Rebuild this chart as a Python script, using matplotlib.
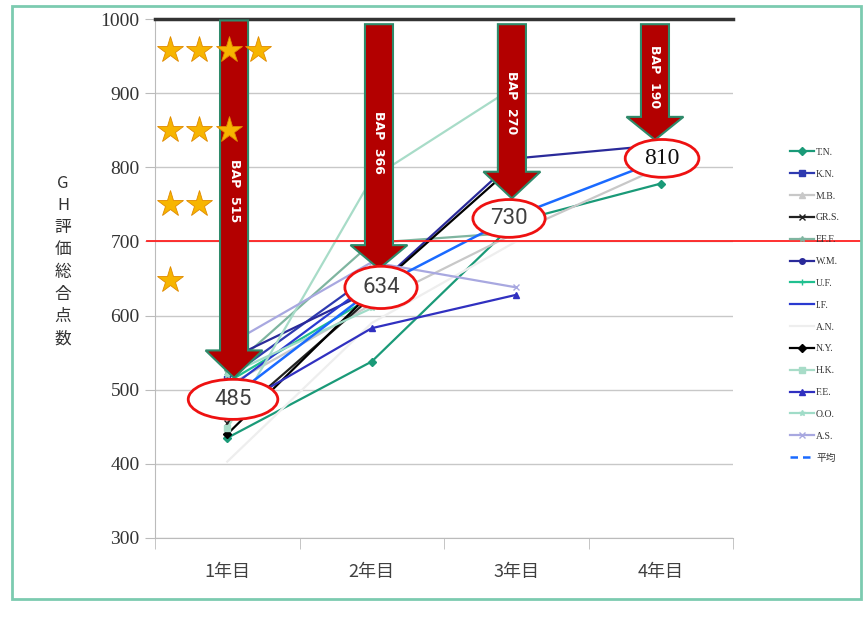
import matplotlib.pyplot as plt
import numpy as np
from matplotlib.patches import Polygon, Ellipse, Rectangle
from matplotlib.lines import Line2D
import matplotlib.transforms as mtransforms

nan = np.nan

# categories and series (GH evaluation total score per year)
years = ['1年目', '2年目', '3年目', '4年目']
names = ['T.N.', 'K.N.', 'M.B.', 'GR.S.', 'EF.F.', 'W.M.', 'U.F.', 'I.F.',
         'A.N.', 'N.Y.', 'H.K.', 'F.E.', 'O.O.', 'A.S.']
scores = [
    [435, 538, 727, 778],   # T.N.
    [515, 655, nan, nan],   # K.N.
    [505, 615, 712, 800],   # M.B.
    [455, 625, nan, nan],   # GR.S.
    [525, 698, 712, nan],   # EF.F.
    [540, 634, 812, 830],   # W.M.
    [510, 625, nan, nan],   # U.F.
    [500, 645, nan, nan],   # I.F.
    [403, 590, 700, nan],   # A.N.
    [440, 632, 805, nan],   # N.Y.
    [448, 785, 910, nan],   # H.K.
    [470, 583, 628, nan],   # F.E.
    [520, 610, nan, nan],   # O.O.
    [560, 672, 638, nan],   # A.S.
]
average = [485, 634, 735, 810]
average_labels = ['485', '634', '730', '810']
bap_gain = [515, 366, 270, 190]
target = 700
full_score = 1000
star_counts = [4, 3, 2, 1]
star_levels = [958, 850, 750, 648]

colors = ['#1a9a78', '#2e3ab0', '#c8c8c8', '#222222', '#7fb5a0', '#2a2a9a',
          '#20c090', '#2a3ad0', '#eeeeee', '#000000', '#a8dcc8', '#3030c0',
          '#a0dcc8', '#a8a8e0']
markers = ['D', 's', '^', 'x', '*', 'o', '+', None, None, 'D', 's', '^', '*', 'x']

fig = plt.figure(figsize=(8.67, 6.17), dpi=100)
ax = fig.add_axes([155/867, 1-538/617, (733-155)/867, (538-19)/617])

x = np.arange(1, 5)
lines = []
for nm, s, c, m in zip(names, scores, colors, markers):
    ln, = ax.plot(x, s, color=c, marker=m, markersize=4, lw=1.6, label=nm, zorder=2)
    lines.append(ln)
ax.plot(x, average, color='#1a6aff', lw=1.8, zorder=2.5)

ax.set_xlim(0.5, 4.5)
ax.set_ylim(300, 1000)
ax.set_yticks(range(300, 1001, 100))
ax.set_yticklabels([str(v) for v in range(300, 1001, 100)],
                   family='Liberation Serif', fontsize=14, color='#333333')
ax.set_xticks(x)
ax.set_xticklabels(years, family='Noto Sans CJK JP', fontsize=13, color='#404040')
ax.set_xticks(np.arange(0.5, 4.6, 1), minor=True)
ax.tick_params(axis='x', which='major', length=0, pad=18)
ax.tick_params(axis='x', which='minor', length=8, color='#bbbbbb')
ax.tick_params(axis='y', length=7, color='#bbbbbb', pad=4)
ax.grid(axis='y', color='#c8c8c8', lw=1, zorder=0)
for sp in ['top', 'right']:
    ax.spines[sp].set_visible(False)
for sp in ['left', 'bottom']:
    ax.spines[sp].set_color('#bbbbbb')

# full score line and target line
ax.axhline(full_score, color='#333333', lw=2.5, zorder=3, clip_on=False)
trans = mtransforms.blended_transform_factory(ax.transAxes, ax.transData)
ax.plot([-0.014, 1.22], [target, target], color='#ff2020', lw=1.3,
        transform=trans, clip_on=False, zorder=3)

# BAP arrows
arrow_x = [1.047, 2.05, 2.97, 3.96]
arrow_top = [998, 993, 993, 993]
arrow_head = [553, 695, 794, 868]
arrow_tip = [516, 663, 758, 837]
text_y = [769, 833, 887, 922]
hw, hh = 0.097, 0.197
for ax_, top, head, tip, ty, g in zip(arrow_x, arrow_top, arrow_head, arrow_tip, text_y, bap_gain):
    pts = [(ax_-hw, top), (ax_+hw, top), (ax_+hw, head), (ax_+hh, head),
           (ax_, tip), (ax_-hh, head), (ax_-hw, head)]
    ax.add_patch(Polygon(pts, closed=True, facecolor='#b30000',
                         edgecolor='#2e8a6a', lw=1.5, zorder=4, clip_on=False))
    ax.text(ax_, ty, 'BAP  ' + str(g), rotation=270, color='white',
            fontsize=9, fontweight='bold', ha='center', va='center', zorder=6)

# average labels in ellipses
ell_x = [1.04, 2.064, 2.95, 4.009]
ell_y = [487, 638, 731, 812]
ell_w = [0.62, 0.50, 0.50, 0.51]
ell_h = [54, 57, 51, 51]
for i, (ex, ey, ew, eh, lab) in enumerate(zip(ell_x, ell_y, ell_w, ell_h, average_labels)):
    ax.add_patch(Ellipse((ex, ey), ew, eh, facecolor='white', edgecolor='#ee1111',
                         lw=2, zorder=5))
    if i == 3:
        ax.text(ex, ey, lab, family='Liberation Serif', fontsize=17, color='#111111',
                ha='center', va='center', zorder=6)
    else:
        ax.text(ex, ey, lab, family='Roboto', fontsize=16, color='#404040',
                ha='center', va='center', zorder=6)

# stars
star_x0, star_dx = 0.604, 0.203
for n, lv in zip(star_counts, star_levels):
    ax.plot(star_x0 + star_dx*np.arange(n), [lv]*n, linestyle='none', marker='*',
            markersize=20, color='#f7b500', markeredgecolor='#e08a00',
            markeredgewidth=0.6, zorder=7)

# y label, stacked characters
fig.text(63/867, 1-261/617, '\n'.join('GH評価総合点数'), family='Noto Sans CJK JP',
         fontsize=12, color='#333333', ha='center', va='center', linespacing=1.4)

# legend
handles = lines + [Line2D([], [], color='#1a6aff', lw=1.8, linestyle=(0, (3, 2)))]
labels = names + ['平均']
leg = fig.legend(handles, labels, loc='upper left', bbox_to_anchor=(785/867, 1-143/617),
                 frameon=False, prop={'family': ['Liberation Serif', 'Noto Sans CJK JP'], 'size': 7},
                 labelspacing=1.32, handlelength=2.5, handletextpad=0.2, borderpad=0)
for t in leg.get_texts():
    t.set_color('#333333')

# outer frame
fig.patches.append(Rectangle((12/867, 1-599/617), (861-12)/867, (599-6)/617,
                             transform=fig.transFigure, fill=False,
                             edgecolor='#7ccbb0', lw=2))

fig.savefig('out.png', dpi=100)
